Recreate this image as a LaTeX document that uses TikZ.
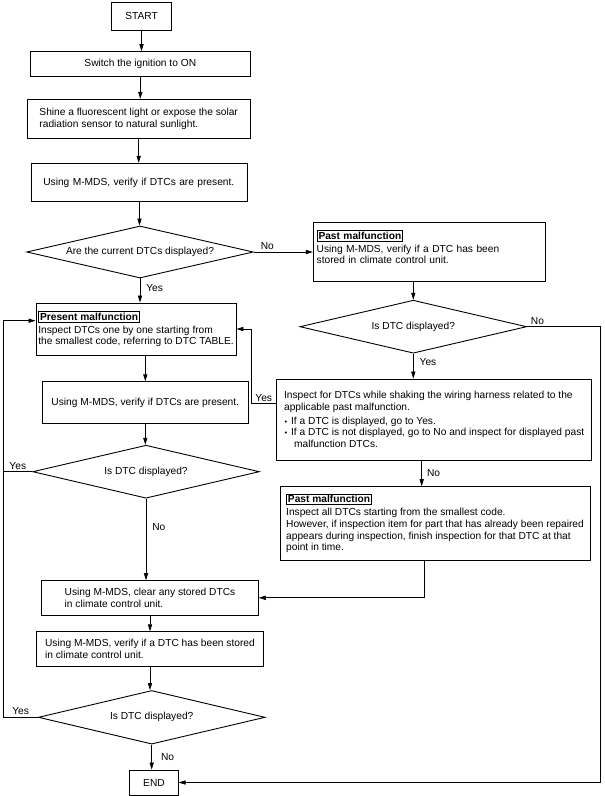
\documentclass[tikz,border=0pt]{standalone}
\usepackage{fontspec}
\setmainfont{Liberation Sans}
\usetikzlibrary{arrows.meta,positioning,shapes.geometric}
\setlength{\fboxsep}{1.2pt}
\setlength{\fboxrule}{0.6pt}
\newcommand{\boxtitle}[1]{\fbox{\textbf{#1}}}
\newcommand{\bul}{\makebox[7pt][l]{\hspace{0.5pt}{\fontsize{7.5}{7.5}\selectfont\textbullet}}}
\tikzset{
  base/.style={draw, line width=0.9pt, fill=white, font=\fontsize{10.2}{11.8}\selectfont, inner ysep=2pt},
  box/.style={base, rectangle, align=left},
  cbox/.style={base, rectangle, align=center},
  decision/.style={base, diamond, aspect=4.3, inner sep=0pt, align=center},
  arrow/.style={-{Triangle[length=7pt,width=4.2pt]}, line width=0.7pt},
  line/.style={line width=0.7pt},
  lbl/.style={font=\fontsize{10.2}{12}\selectfont, inner sep=2pt}
}

\begin{document}
\begin{tikzpicture}[x=1pt, y=-1pt]
  \useasboundingbox (0,0) rectangle (605,796);

  % left column
  \node[cbox, minimum width=60pt, minimum height=28pt] (start) at (141.5,16) {START};
  \node[cbox, minimum width=220.7pt, minimum height=24.3pt] (ign) at (140.3,63.8) {Switch the ignition to ON};
  \node[box, minimum width=222.7pt, minimum height=39pt] (shine) at (138.7,118.8) {Shine a fluorescent light or expose the solar\\radiation sensor to natural sunlight.};
  \node[box, text width=192.4pt, inner xsep=11.6pt, minimum height=38.4pt] (chk1) at (139.5,182.5) {Using M-MDS, verify if DTCs are present.};
  \node[decision, minimum width=226.6pt, minimum height=52pt] (cur) at (140,252) {Are the current DTCs displayed?};
  \node[box, minimum width=200pt, minimum height=52pt, inner xsep=2pt] (present) at (136,329) {\boxtitle{Present malfunction}\\[1pt]Inspect DTCs one by one starting from\\the smallest code, referring to DTC TABLE.};
  \node[cbox, minimum width=205.3pt, minimum height=41.6pt] (chk2) at (145.3,402.5) {Using M-MDS, verify if DTCs are present.};
  \node[decision, minimum width=226.6pt, minimum height=53pt] (disp2) at (146,471.7) {Is DTC displayed?};
  \node[box, minimum width=216.6pt, minimum height=34.3pt] (clr) at (150,597.8) {Using M-MDS, clear any stored DTCs\\in climate control unit.};
  \node[box, minimum width=226.6pt, minimum height=35pt] (chk3) at (150,649.2) {Using M-MDS, verify if a DTC has been stored\\in climate control unit.};
  \node[decision, minimum width=226.7pt, minimum height=53.6pt] (disp3) at (151.7,717.3) {Is DTC displayed?};
  \node[cbox, minimum width=48.3pt, minimum height=25pt] (stop) at (154,782.5) {END};

  % right column
  \node[box, text width=225pt, inner xsep=3.4pt, minimum height=59.4pt] (past1) at (429.2,252) {\boxtitle{Past malfunction}\\[1pt]Using M-MDS, verify if a DTC has been\\stored in climate control unit.\\[-1.8pt]\mbox{}};
  \node[decision, minimum width=226.7pt, minimum height=53pt] (disp1) at (413.3,326.7) {Is DTC displayed?};
  \node[box, minimum width=315pt, minimum height=81pt] (shake) at (434.2,419.5) {Inspect for DTCs while shaking the wiring harness related to the\\applicable past malfunction.\\[2pt]\bul If a DTC is displayed, go to Yes.\\\bul If a DTC is not displayed, go to No and inspect for displayed past\\\hspace*{10pt}malfunction DTCs.};
  \node[box, minimum width=310pt, minimum height=73.3pt] (past2) at (435,523.3) {\boxtitle{Past malfunction}\\[1pt]Inspect all DTCs starting from the smallest code.\\However, if inspection item for part that has already been repaired\\appears during inspection, finish inspection for that DTC at that\\point in time.};

  \coordinate (lft) at (3.3,320.7);

  % arrows
  \draw[arrow] (start.south) -- (start.south |- ign.north);
  \draw[arrow] (ign.south) -- (ign.south |- shine.north);
  \draw[arrow] (shine.south) -- (shine.south |- chk1.north);
  \draw[arrow] (chk1.south) -- (chk1.south |- cur.north);
  \draw[arrow] (cur.south) -- node[lbl, right=4pt, pos=0.4] {Yes} (cur.south |- present.north);
  \draw[arrow] (cur.east) -- node[lbl, above right, pos=0.08] {No} (cur.east -| past1.west);
  \draw[arrow] (present.south -| chk2.north) -- (chk2.north);
  \draw[arrow] (chk2.south) -- (chk2.south |- disp2.north);
  \draw[arrow] (disp2.south) -- node[lbl, right=4pt, pos=0.35] {No} (disp2.south |- clr.north);
  \draw[arrow] (clr.south) -- (clr.south |- chk3.north);
  \draw[arrow] (chk3.south) -- (chk3.south |- disp3.north);
  \draw[arrow] (disp3.south) -- node[lbl, right=7pt] {No} (disp3.south |- stop.north);

  \draw[arrow] (past1.south -| disp1.north) -- (disp1.north);
  \draw[arrow] (disp1.south) -- node[lbl, right=4pt, pos=0.35] {Yes} (disp1.south |- shake.north);
  \draw[arrow] ([xshift=-12.5pt]shake.south) -- node[lbl, right=3pt] {No} ([xshift=-12.5pt]shake.south |- past2.north);
  \draw[arrow] ([xshift=-11pt]past2.south) |- (clr.east);
  \draw[arrow] (disp1.east) -- node[lbl, above right, pos=0.02] {No} ++(73.3,0) |- (stop.east);

  % loops back to present malfunction
  \draw[arrow] ([yshift=16pt]shake.west) -- node[lbl, above] {Yes} ++(-25,0) |- (present.east);
  \draw[arrow] (disp2.west) -- node[lbl, above] {Yes} (disp2.west -| lft) -- (lft) -- (present.west |- lft);
  \draw[line] (disp3.west) -- node[lbl, above] {Yes} (disp3.west -| lft) -- (disp2.west -| lft);
\end{tikzpicture}
\end{document}
